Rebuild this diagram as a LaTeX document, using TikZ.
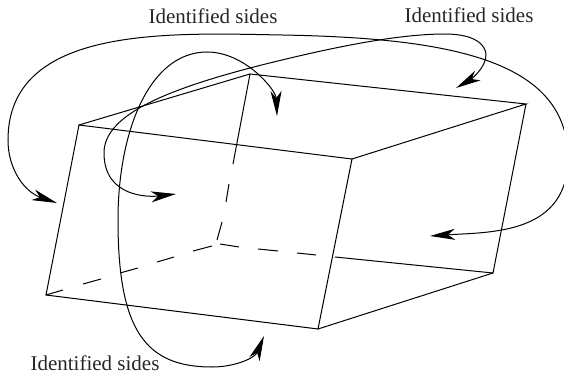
\documentclass[tikz,border=0pt]{standalone}
\usepackage{fontspec}
\setmainfont{Liberation Serif}
\usetikzlibrary{arrows.meta}
\tikzset{
  edge/.style={line width=1pt,line cap=round,line join=miter},
  dashedge/.style={line width=1pt},
  tipstyle/.tip={Stealth[length=25pt,width=11pt,inset=7pt]},
  curve/.style={line width=1pt,tipstyle-tipstyle},
  lab/.style={font=\fontsize{21pt}{24pt}\selectfont,text=black!85,inner sep=0pt}
}
\begin{document}
\begin{tikzpicture}[x=1pt,y=-1pt]
\useasboundingbox (0,0) rectangle (564,374);
\coordinate (A) at (79,125);
\coordinate (B) at (250,74);
\coordinate (C) at (526,104);
\coordinate (D) at (352,159);
\coordinate (E) at (46,295);
\coordinate (F) at (318,329);
\coordinate (G) at (493,273);
\coordinate (H) at (217,243);
\coordinate (BH1) at (233,164);
\coordinate (BH2) at (229,184);
\coordinate (BH3) at (226,202);
\coordinate (BH4) at (222,222);
\coordinate (BH5) at (217,240);
\coordinate (HG0) at (220,244);
\coordinate (HG1) at (239,247);
\coordinate (HG2) at (258,249);
\coordinate (HG3) at (278,251);
\coordinate (HG4) at (297,253);
\coordinate (HG5) at (316,255);
\coordinate (HG6) at (335,257);
\coordinate (EH1) at (63,290);
\coordinate (EH2) at (83,284);
\coordinate (EH3) at (101,279);
\coordinate (EH4) at (120,273);
\coordinate (EH5) at (138,268);
\coordinate (EH6) at (157,262);
\coordinate (EH7) at (174,257);
\coordinate (EH8) at (193,251);
\coordinate (EH9) at (212,246);
\draw[edge] (E) -- (A) -- (D) -- (F) -- cycle;
\draw[edge] (A) -- (B) -- (C) -- (D);
\draw[edge] (C) -- (G) -- (F);
\draw[edge] (B) -- (BH1);
\draw[edge] (HG6) -- (G);
\draw[dashedge] (BH2) -- (BH3) (BH4) -- (BH5);
\draw[dashedge] (HG0) -- (HG1) (HG2) -- (HG3) (HG4) -- (HG5);
\draw[dashedge] (E) -- (EH1) (EH2) -- (EH3) (EH4) -- (EH5) (EH6) -- (EH7) (EH8) -- (EH9);
\coordinate (T1) at (57,203);
\coordinate (T1b) at (430,236);
\coordinate (T2) at (456,88);
\coordinate (T2b) at (176,194);
\coordinate (T3) at (277,116);
\coordinate (T3b) at (264,336);
\draw[curve] (T1b) .. controls (490,232) and (570,235) .. (568,155)
  .. controls (565,60) and (450,38) .. (282,35)
  .. controls (170,33) and (8,25) .. (8,140)
  .. controls (8,170) and (25,192) .. (T1);
\draw[curve] (T2b) .. controls (150,197) and (104,198) .. (104,153)
  .. controls (104,115) and (165,88) .. (282,60)
  .. controls (340,46) and (400,34) .. (445,34)
  .. controls (475,34) and (486,45) .. (486,55)
  .. controls (486,68) and (470,80) .. (T2);
\draw[curve] (T3) .. controls (276,90) and (245,52) .. (207,52)
  .. controls (150,52) and (118,130) .. (118,220)
  .. controls (118,330) and (145,367) .. (212,367)
  .. controls (235,367) and (255,358) .. (T3b);
\node[lab] (L1) at (213,16) {Identified sides};
\node[lab] (L2) at (469,15) {Identified sides};
\node[lab] (L3) at (95,363.5) {Identified sides};
\end{tikzpicture}
\end{document}
